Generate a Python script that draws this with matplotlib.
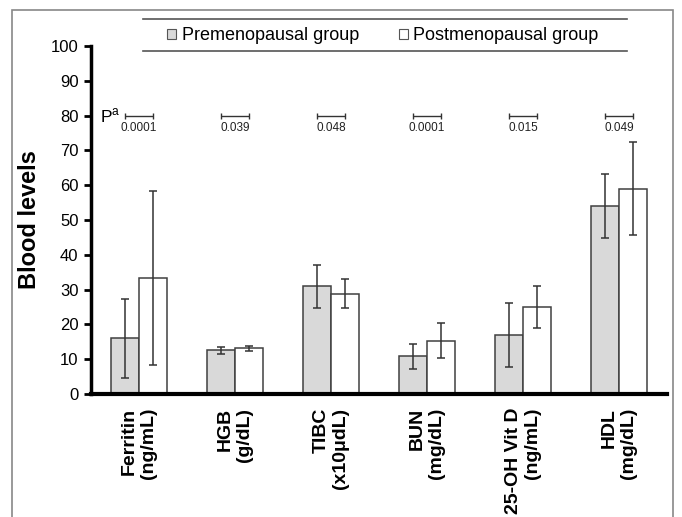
import matplotlib
matplotlib.use("Agg")
import matplotlib.pyplot as plt
import numpy as np
from matplotlib.patches import Rectangle
from matplotlib.lines import Line2D

plt.rcParams['font.family'] = ['Liberation Sans', 'DejaVu Sans']
plt.rcParams['mathtext.fontset'] = 'custom'
plt.rcParams['mathtext.rm'] = 'Liberation Sans'

categories = ["Ferritin\n(ng/mL)", "HGB\n(g/dL)", "TIBC\n(x10μdL)", "BUN\n(mg/dL)",
              "25-OH Vit D\n(ng/mL)", "HDL\n(mg/dL)"]
pre_mean = [16.0, 12.6, 31.0, 10.9, 17.0, 54.0]
pre_sd = [11.4, 1.0, 6.2, 3.6, 9.1, 9.1]
post_mean = [33.4, 13.1, 28.8, 15.3, 25.0, 59.0]
post_sd = [25.0, 0.8, 4.2, 5.0, 6.0, 13.4]
p_values = ["0.0001", "0.039", "0.048", "0.0001", "0.015", "0.049"]
series = ["Premenopausal group", "Postmenopausal group"]

W, H = 682, 517
fig = plt.figure(figsize=(W/100, H/100), dpi=100)
ax = fig.add_axes([91/W, 1-394/H, (667-91)/W, (394-46)/H])

x = np.arange(len(categories))
bw = 0.29
edge = '#404040'
ax.bar(x - bw/2, pre_mean, bw, color='#d9d9d9', edgecolor=edge, linewidth=1.1, zorder=2)
ax.bar(x + bw/2, post_mean, bw, color='white', edgecolor=edge, linewidth=1.1, zorder=2)
ax.errorbar(x - bw/2, pre_mean, yerr=pre_sd, fmt='none', ecolor='#333333', elinewidth=1.1,
            capsize=3, capthick=1.1, zorder=3)
ax.errorbar(x + bw/2, post_mean, yerr=post_sd, fmt='none', ecolor='#333333', elinewidth=1.1,
            capsize=3, capthick=1.1, zorder=3)

# p-value brackets
for i, p in enumerate(p_values):
    ax.errorbar(x[i], 80, xerr=bw/2, fmt='none', ecolor='#333333', elinewidth=1.0,
                capsize=2.5, capthick=1.0)
    ax.text(x[i], 78.2, p, ha='center', va='top', fontsize=8.5, color='#222222')
ax.text(-0.30, 80, r"P$^{\mathrm{a}}$", ha='center', va='center', fontsize=12.5)

ax.set_xlim(-0.5, 5.5)
ax.set_ylim(0, 100)
ax.set_yticks(np.arange(0, 101, 10))
ax.tick_params(axis='y', labelsize=12, length=5, width=2, direction='out', pad=4)
ax.set_xticks(x)
ax.set_xticklabels(categories, rotation=90, fontsize=14, fontweight='bold')
for lbl in ax.get_xticklabels():
    lbl.set_multialignment('right')
ax.tick_params(axis='x', length=0, pad=10)
for s in ['top', 'right']:
    ax.spines[s].set_visible(False)
ax.spines['left'].set_linewidth(2.5)
ax.spines['bottom'].set_linewidth(3)
ax.set_ylabel("Blood levels", fontsize=17, fontweight='bold', labelpad=7)

# legend
handles = [Rectangle((0, 0), 1, 1, facecolor='#d9d9d9', edgecolor='#555555', linewidth=0.8),
           Rectangle((0, 0), 1, 1, facecolor='white', edgecolor='#555555', linewidth=0.8)]
fig.legend(handles, series, loc='center', bbox_to_anchor=(383/W, 1-36/H), ncol=2,
           frameon=False, fontsize=13, handlelength=0.5, handleheight=0.5,
           handletextpad=0.3, columnspacing=2.2)
for yy in [19, 51]:
    fig.add_artist(Line2D([143/W, 627/W], [1-yy/H, 1-yy/H], color='#555555', linewidth=1.2))

# outer frame
fig.add_artist(Rectangle((12/W, -0.1), (673-12)/W, 1.1 - 10/H, fill=False,
                         edgecolor='#888888', linewidth=1.2))

fig.savefig("out.png", dpi=100)
